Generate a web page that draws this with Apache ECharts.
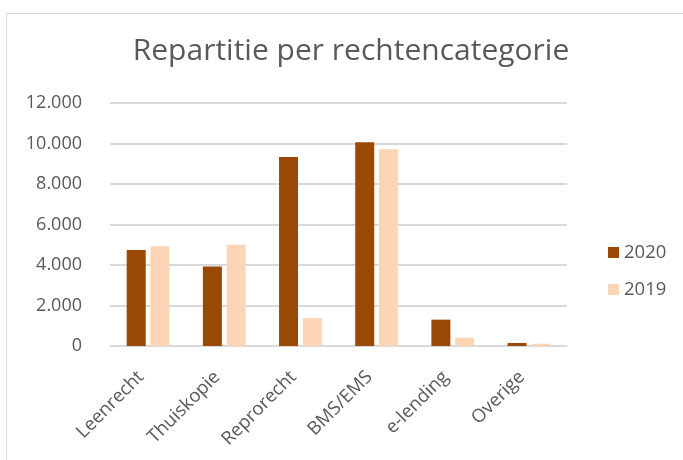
<!DOCTYPE html>
<html>
<head>
<meta charset="utf-8">
<script src="https://cdn.jsdelivr.net/npm/echarts@6/dist/echarts.min.js"></script>
<style>
  html, body { margin: 0; padding: 0; background: #fff; }
  #chart { width: 683px; height: 460px; }
</style>
</head>
<body>
<div id="chart"></div>
<script>
  // rechtencategorieen
  var categories = ['Leenrecht', 'Thuiskopie', 'Reprorecht', 'BMS/EMS', 'e-lending', 'Overige']
  var values2020 = [4740, 3920, 9330, 10060, 1300, 150]
  var values2019 = [4920, 5000, 1380, 9710, 410, 110]
  var yTicks = [0, 2000, 4000, 6000, 8000, 10000, 12000]

  var chart = echarts.init(document.getElementById('chart'))
  var font = '"Open Sans", sans-serif'
  var grey = '#595959'

  // 12000 -> 12.000, met een lege ruimte rechts als afstand tot het raster
  function fmtY (v) {
    var s = v === 0 ? '0' : String(v).replace(/\B(?=(\d{3})+(?!\d))/g, '.')
    return '{v|' + s + '}{g| }'
  }
  function fmtX (v) {
    return '{v|' + v + '}{g| }'
  }

  var option = {
    backgroundColor: '#fff',
    animation: false,
    title: {
      text: 'Repartitie per rechtencategorie',
      left: 346,
      textAlign: 'center',
      top: 31,
      textStyle: { fontFamily: font, fontSize: 30, fontWeight: 'normal', color: grey }
    },
    graphic: [{
      type: 'rect',
      shape: { x: 6.5, y: 13.5, width: 720, height: 500 },
      style: { fill: 'none', stroke: '#d9d9d9', lineWidth: 1 },
      silent: true
    }],
    legend: {
      orient: 'vertical',
      left: 603,
      top: 238,
      itemWidth: 11,
      itemHeight: 11,
      itemGap: 18,
      icon: 'rect',
      textStyle: { fontFamily: font, fontSize: 18.5, color: grey },
      data: ['2020', '2019']
    },
    grid: { left: 110, right: 116, top: 103, bottom: 114 },
    xAxis: {
      type: 'category',
      data: categories,
      axisLine: { lineStyle: { color: '#d9d9d9', width: 1.5 } },
      axisTick: { show: false },
      axisLabel: {
        rotate: 45,
        interval: 0,
        margin: 21,
        formatter: fmtX,
        rich: {
          v: { fontFamily: font, fontSize: 18.5, color: grey },
          g: { width: 10, fontSize: 18.5 }
        }
      }
    },
    yAxis: {
      type: 'value',
      min: yTicks[0],
      max: yTicks[yTicks.length - 1],
      interval: 2000,
      axisLine: { show: false },
      axisTick: { show: false },
      splitLine: { lineStyle: { color: '#d9d9d9', width: 2 } },
      axisLabel: {
        margin: 0,
        formatter: fmtY,
        rich: {
          v: { fontFamily: font, fontSize: 18, color: grey },
          g: { width: 28, fontSize: 18 }
        }
      }
    },
    series: [
      {
        name: '2020',
        type: 'bar',
        data: values2020,
        barWidth: 19,
        barGap: '25%',
        itemStyle: { color: '#9a4806' }
      },
      {
        name: '2019',
        type: 'bar',
        data: values2019,
        barWidth: 19,
        itemStyle: { color: '#fbd5b5' }
      }
    ]
  }
  chart.setOption(option)
</script>
</body>
</html>
